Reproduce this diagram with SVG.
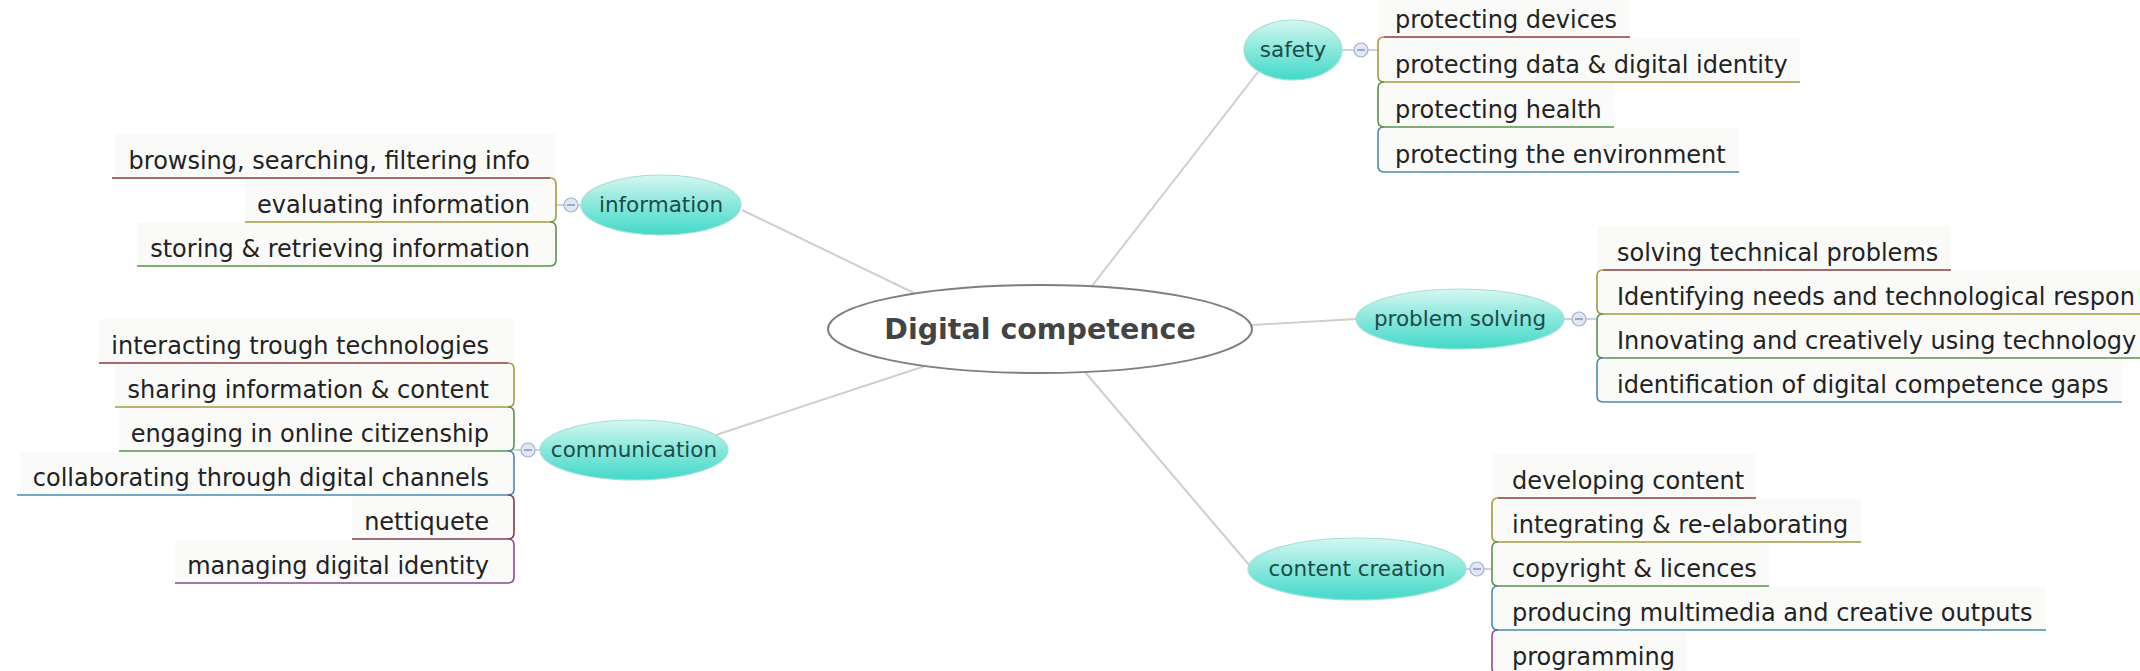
<svg xmlns="http://www.w3.org/2000/svg" width="2140" height="671" viewBox="0 0 2140 671">
<defs>
<linearGradient id="tg" x1="0" y1="0" x2="0" y2="1">
<stop offset="0" stop-color="#d6f7f2"/>
<stop offset="0.45" stop-color="#8fe9de"/>
<stop offset="1" stop-color="#42d9c9"/>
</linearGradient>
<style>
.conn{stroke:#cfcfcf;stroke-width:2;fill:none}
.node ellipse.n{fill:url(#tg);stroke:#a6dfd8;stroke-width:1.2}
.nt{font-family:"DejaVu Sans",sans-serif;font-size:21.5px;fill:#1d4b48;text-anchor:middle}
.ct{font-family:"DejaVu Sans",sans-serif;font-size:24px;fill:#222}
.ctl{font-family:"DejaVu Sans",sans-serif;font-size:24px;fill:#222;text-anchor:end}
.br{fill:none;stroke-width:1.6}
.row{fill:#fafbf9}
.stub{stroke:#b9c5d9;stroke-width:1.5}
.tog{fill:#e1e8f4;stroke:#9fb0cf;stroke-width:1.2}
.togm{stroke:#8496bb;stroke-width:1.5}
.c1{stroke:#8e3a3a}.c2{stroke:#a39a3e}.c3{stroke:#58944c}.c4{stroke:#4a8ab2}.c5{stroke:#7e3e52}.c6{stroke:#8a4a96}
</style>
</defs>
<rect width="2140" height="671" fill="#ffffff"/>

<g id="connectors">
<line class="conn" x1="742" y1="210" x2="914" y2="293"/>
<line class="conn" x1="716" y1="435" x2="925" y2="366"/>
<line class="conn" x1="1258" y1="72" x2="1092" y2="286"/>
<line class="conn" x1="1252" y1="325" x2="1356" y2="319"/>
<line class="conn" x1="1085" y1="372" x2="1250" y2="566"/>
</g>

<g id="central">
<ellipse cx="1040" cy="329" rx="212" ry="44" fill="#ffffff" stroke="#7f7f7f" stroke-width="2"/>
<text x="1040" y="339" font-family="DejaVu Sans, sans-serif" font-size="28.5" font-weight="bold" fill="#444" text-anchor="middle">Digital competence</text>
</g>

<!-- SAFETY -->
<g id="safety" class="node">
<line class="stub" x1="1342" y1="50" x2="1378" y2="50"/>
<ellipse class="n" cx="1293" cy="50" rx="49" ry="30"/>
<text class="nt" x="1293" y="57">safety</text>
<circle class="tog" cx="1361" cy="50" r="7"/>
<line class="togm" x1="1357" y1="50" x2="1365" y2="50"/>
</g>
<g id="safety-children">
<rect class="row" x="1378" y="0" width="252" height="37"/>
<rect class="row" x="1378" y="38" width="422" height="44"/>
<rect class="row" x="1378" y="83" width="236" height="44"/>
<rect class="row" x="1378" y="128" width="361" height="44"/>
<path class="br c1" d="M1384 37 H1630"/>
<path class="br c2" d="M1384 37 Q1378 37 1378 43 V76 Q1378 82 1384 82 H1800"/>
<path class="br c3" d="M1384 82 Q1378 82 1378 88 V121 Q1378 127 1384 127 H1614"/>
<path class="br c4" d="M1384 127 Q1378 127 1378 133 V166 Q1378 172 1384 172 H1739"/>
<text class="ct" x="1395" y="28">protecting devices</text>
<text class="ct" x="1395" y="73">protecting data &amp; digital identity</text>
<text class="ct" x="1395" y="118">protecting health</text>
<text class="ct" x="1395" y="163">protecting the environment</text>
</g>

<!-- INFORMATION -->
<g id="information" class="node">
<line class="stub" x1="556" y1="205" x2="584" y2="205"/>
<ellipse class="n" cx="661" cy="205" rx="80" ry="30"/>
<text class="nt" x="661" y="212">information</text>
<circle class="tog" cx="571" cy="205" r="7"/>
<line class="togm" x1="567" y1="205" x2="575" y2="205"/>
</g>
<g id="information-children">
<rect class="row" x="115" y="134" width="441" height="44"/>
<rect class="row" x="245" y="179" width="311" height="43"/>
<rect class="row" x="137" y="223" width="419" height="43"/>
<path class="br c1" d="M112 178 H550"/>
<path class="br c2" d="M550 178 Q556 178 556 184 V216 Q556 222 550 222 H245"/>
<path class="br c3" d="M550 222 Q556 222 556 228 V260 Q556 266 550 266 H137"/>
<text class="ctl" x="530" y="169">browsing, searching, filtering info</text>
<text class="ctl" x="530" y="213">evaluating information</text>
<text class="ctl" x="530" y="257">storing &amp; retrieving information</text>
</g>

<!-- COMMUNICATION -->
<g id="communication" class="node">
<line class="stub" x1="514" y1="450" x2="542" y2="450"/>
<ellipse class="n" cx="634" cy="450" rx="94" ry="30"/>
<text class="nt" x="634" y="457">communication</text>
<circle class="tog" cx="528" cy="450" r="7"/>
<line class="togm" x1="524" y1="450" x2="532" y2="450"/>
</g>
<g id="communication-children">
<rect class="row" x="99" y="319" width="415" height="44"/>
<rect class="row" x="115" y="364" width="399" height="43"/>
<rect class="row" x="119" y="408" width="395" height="43"/>
<rect class="row" x="20" y="452" width="494" height="43"/>
<rect class="row" x="352" y="496" width="162" height="43"/>
<rect class="row" x="175" y="540" width="339" height="43"/>
<path class="br c1" d="M99 363 H508"/>
<path class="br c2" d="M508 363 Q514 363 514 369 V401 Q514 407 508 407 H115"/>
<path class="br c3" d="M508 407 Q514 407 514 413 V445 Q514 451 508 451 H119"/>
<path class="br c4" d="M508 451 Q514 451 514 457 V489 Q514 495 508 495 H17"/>
<path class="br c5" d="M508 495 Q514 495 514 501 V533 Q514 539 508 539 H352"/>
<path class="br c6" d="M508 539 Q514 539 514 545 V577 Q514 583 508 583 H175"/>
<text class="ctl" x="489" y="354">interacting trough technologies</text>
<text class="ctl" x="489" y="398">sharing information &amp; content</text>
<text class="ctl" x="489" y="442">engaging in online citizenship</text>
<text class="ctl" x="489" y="486">collaborating through digital channels</text>
<text class="ctl" x="489" y="530">nettiquete</text>
<text class="ctl" x="489" y="574">managing digital identity</text>
</g>

<!-- PROBLEM SOLVING -->
<g id="problem-solving" class="node">
<line class="stub" x1="1562" y1="319" x2="1597" y2="319"/>
<ellipse class="n" cx="1460" cy="319" rx="104" ry="30"/>
<text class="nt" x="1460" y="326">problem solving</text>
<circle class="tog" cx="1579" cy="319" r="7"/>
<line class="togm" x1="1575" y1="319" x2="1583" y2="319"/>
</g>
<g id="problem-solving-children">
<rect class="row" x="1597" y="226" width="354" height="44"/>
<rect class="row" x="1597" y="271" width="543" height="43"/>
<rect class="row" x="1597" y="315" width="543" height="43"/>
<rect class="row" x="1597" y="359" width="525" height="43"/>
<path class="br c1" d="M1603 270 H1951"/>
<path class="br c2" d="M1603 270 Q1597 270 1597 276 V308 Q1597 314 1603 314 H2140"/>
<path class="br c3" d="M1603 314 Q1597 314 1597 320 V352 Q1597 358 1603 358 H2140"/>
<path class="br c4" d="M1603 358 Q1597 358 1597 364 V396 Q1597 402 1603 402 H2122"/>
<text class="ct" x="1617" y="261">solving technical problems</text>
<text class="ct" x="1617" y="305">Identifying needs and technological respon</text>
<text class="ct" x="1617" y="349">Innovating and creatively using technology</text>
<text class="ct" x="1617" y="393">identification of digital competence gaps</text>
</g>

<!-- CONTENT CREATION -->
<g id="content-creation" class="node">
<line class="stub" x1="1464" y1="569" x2="1492" y2="569"/>
<ellipse class="n" cx="1357" cy="569" rx="109" ry="31"/>
<text class="nt" x="1357" y="576">content creation</text>
<circle class="tog" cx="1477" cy="569" r="7"/>
<line class="togm" x1="1473" y1="569" x2="1481" y2="569"/>
</g>
<g id="content-creation-children">
<rect class="row" x="1492" y="454" width="264" height="44"/>
<rect class="row" x="1492" y="499" width="369" height="43"/>
<rect class="row" x="1492" y="543" width="277" height="43"/>
<rect class="row" x="1492" y="587" width="554" height="43"/>
<rect class="row" x="1492" y="631" width="195" height="43"/>
<path class="br c1" d="M1498 498 H1756"/>
<path class="br c2" d="M1498 498 Q1492 498 1492 504 V536 Q1492 542 1498 542 H1861"/>
<path class="br c3" d="M1498 542 Q1492 542 1492 548 V580 Q1492 586 1498 586 H1769"/>
<path class="br c4" d="M1498 586 Q1492 586 1492 592 V624 Q1492 630 1498 630 H2046"/>
<path class="br c6" d="M1498 630 Q1492 630 1492 636 V668 Q1492 674 1498 674 H1687"/>
<text class="ct" x="1512" y="489">developing content</text>
<text class="ct" x="1512" y="533">integrating &amp; re-elaborating</text>
<text class="ct" x="1512" y="577">copyright &amp; licences</text>
<text class="ct" x="1512" y="621">producing multimedia and creative outputs</text>
<text class="ct" x="1512" y="665">programming</text>
</g>
</svg>
